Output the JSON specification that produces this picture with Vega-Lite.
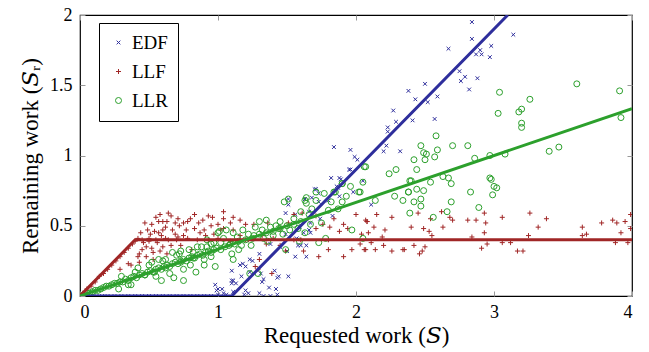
{
"$schema": "https://vega.github.io/schema/vega-lite/v6.json",
"width": 552, "height": 281,
"autosize": {"type": "none"},
"padding": {"left": 80, "top": 15, "right": 17, "bottom": 56},
"config": {"font": "Liberation Serif", "view": {"stroke": "black", "strokeWidth": 1.2},
 "axis": {"labelFont": "Liberation Serif", "titleFont": "Liberation Serif"},
 "legend": {"labelFont": "Liberation Serif", "titleFont": "Liberation Serif"}},
"datasets": {
"pts": [
{"s":"EDF","x":0.02,"y":0},{"s":"EDF","x":0.05,"y":0},{"s":"EDF","x":0.08,"y":0},{"s":"EDF","x":0.12,"y":0},{"s":"EDF","x":0.16,"y":0},{"s":"EDF","x":0.2,"y":0},{"s":"EDF","x":0.25,"y":0},{"s":"EDF","x":0.3,"y":0},{"s":"EDF","x":0.35,"y":0},{"s":"EDF","x":0.4,"y":0},{"s":"EDF","x":0.45,"y":0},{"s":"EDF","x":0.5,"y":0},{"s":"EDF","x":0.55,"y":0},{"s":"EDF","x":0.6,"y":0},{"s":"EDF","x":0.65,"y":0},{"s":"EDF","x":0.7,"y":0},{"s":"EDF","x":0.75,"y":0},{"s":"EDF","x":0.8,"y":0},{"s":"EDF","x":0.85,"y":0},{"s":"EDF","x":0.9,"y":0},{"s":"EDF","x":0.95,"y":0},{"s":"EDF","x":1.0,"y":0.01},{"s":"EDF","x":1.04,"y":0.02},{"s":"EDF","x":1.06,"y":0.01},
{"s":"EDF","x":0.98,"y":0.08},{"s":"EDF","x":1.0,"y":0.05},{"s":"EDF","x":0.99,"y":0.04},{"s":"EDF","x":1.03,"y":0.05},{"s":"EDF","x":1.1,"y":0.11},{"s":"EDF","x":1.1,"y":0.09},{"s":"EDF","x":1.16,"y":0.22},{"s":"EDF","x":1.18,"y":0.23},{"s":"EDF","x":1.1,"y":0.18},{"s":"EDF","x":1.2,"y":0.04},{"s":"EDF","x":1.22,"y":0.02},{"s":"EDF","x":1.3,"y":0.02},{"s":"EDF","x":1.33,"y":0.0},{"s":"EDF","x":1.43,"y":0.01},{"s":"EDF","x":1.37,"y":0.06},{"s":"EDF","x":1.41,"y":0.18},{"s":"EDF","x":1.44,"y":0.14},{"s":"EDF","x":1.51,"y":0.14},{"s":"EDF","x":1.31,"y":0.16},
{"s":"EDF","x":1.96,"y":0.9},{"s":"EDF","x":1.87,"y":0.77},{"s":"EDF","x":1.71,"y":0.76},{"s":"EDF","x":1.88,"y":0.71},{"s":"EDF","x":1.8,"y":0.68},{"s":"EDF","x":1.63,"y":0.69},{"s":"EDF","x":1.66,"y":0.6},{"s":"EDF","x":1.56,"y":0.58},{"s":"EDF","x":1.49,"y":0.59},{"s":"EDF","x":1.51,"y":0.69},{"s":"EDF","x":1.83,"y":0.57},{"s":"EDF","x":1.74,"y":0.55},{"s":"EDF","x":1.67,"y":0.52},{"s":"EDF","x":1.59,"y":0.49},{"s":"EDF","x":1.62,"y":0.45},{"s":"EDF","x":1.57,"y":0.41},{"s":"EDF","x":1.67,"y":0.45},{"s":"EDF","x":1.49,"y":0.44},{"s":"EDF","x":1.6,"y":0.36},{"s":"EDF","x":1.45,"y":0.35},{"s":"EDF","x":1.38,"y":0.37},{"s":"EDF","x":1.5,"y":0.32},{"s":"EDF","x":1.56,"y":0.28},{"s":"EDF","x":1.64,"y":0.28},{"s":"EDF","x":1.3,"y":0.3},{"s":"EDF","x":1.23,"y":0.26},{"s":"EDF","x":1.25,"y":0.25},{"s":"EDF","x":1.2,"y":0.21},{"s":"EDF","x":1.43,"y":0.13},{"s":"EDF","x":1.33,"y":0.12},{"s":"EDF","x":1.23,"y":0.17},{"s":"EDF","x":1.17,"y":0.14},{"s":"EDF","x":1.11,"y":0.11},{"s":"EDF","x":1.13,"y":0.09},{"s":"EDF","x":1.32,"y":0.1},{"s":"EDF","x":1.42,"y":0.05},{"s":"EDF","x":1.11,"y":0.03},{"s":"EDF","x":1.19,"y":0.01},{"s":"EDF","x":1.38,"y":0},
{"s":"EDF","x":2.11,"y":0.65},{"s":"EDF","x":1.73,"y":0.67},{"s":"EDF","x":1.51,"y":0.65},{"s":"EDF","x":1.66,"y":0.47},{"s":"EDF","x":1.64,"y":0.36},{"s":"EDF","x":1.58,"y":0.36},
{"s":"EDF","x":2.84,"y":1.95},{"s":"EDF","x":3.14,"y":1.86},{"s":"EDF","x":2.84,"y":1.83},{"s":"EDF","x":2.67,"y":1.76},{"s":"EDF","x":2.98,"y":1.78},{"s":"EDF","x":2.9,"y":1.75},{"s":"EDF","x":2.91,"y":1.72},{"s":"EDF","x":2.87,"y":1.72},{"s":"EDF","x":2.97,"y":1.7},{"s":"EDF","x":2.75,"y":1.6},{"s":"EDF","x":2.79,"y":1.56},{"s":"EDF","x":2.76,"y":1.53},{"s":"EDF","x":2.88,"y":1.55},{"s":"EDF","x":2.82,"y":1.47},{"s":"EDF","x":2.5,"y":1.51},{"s":"EDF","x":2.38,"y":1.46},{"s":"EDF","x":2.43,"y":1.4},{"s":"EDF","x":2.52,"y":1.38},{"s":"EDF","x":2.59,"y":1.42},{"s":"EDF","x":2.27,"y":1.32},{"s":"EDF","x":2.29,"y":1.24},{"s":"EDF","x":2.41,"y":1.25},{"s":"EDF","x":2.57,"y":1.26},{"s":"EDF","x":2.23,"y":1.2},{"s":"EDF","x":2.23,"y":1.17},{"s":"EDF","x":2.22,"y":1.07},{"s":"EDF","x":2.2,"y":1.03},{"s":"EDF","x":2.32,"y":1.03},{"s":"EDF","x":1.84,"y":1.06},{"s":"EDF","x":1.96,"y":1.04},{"s":"EDF","x":1.99,"y":0.99},{"s":"EDF","x":2.01,"y":0.97},{"s":"EDF","x":1.95,"y":0.9},{"s":"EDF","x":1.82,"y":0.84},{"s":"EDF","x":1.88,"y":0.84},{"s":"EDF","x":1.89,"y":0.83},{"s":"EDF","x":2.05,"y":0.82},{"s":"EDF","x":1.7,"y":0.76},{"s":"EDF","x":1.73,"y":0.73},{"s":"EDF","x":1.86,"y":0.78},{"s":"EDF","x":1.98,"y":0.74},{"s":"EDF","x":1.68,"y":0.7},
{"s":"LLF","x":0.02,"y":0.02},{"s":"LLF","x":0.05,"y":0.05},{"s":"LLF","x":0.08,"y":0.07},{"s":"LLF","x":0.11,"y":0.1},{"s":"LLF","x":0.14,"y":0.14},{"s":"LLF","x":0.17,"y":0.16},{"s":"LLF","x":0.2,"y":0.19},{"s":"LLF","x":0.23,"y":0.22},{"s":"LLF","x":0.26,"y":0.25},{"s":"LLF","x":0.29,"y":0.28},{"s":"LLF","x":0.32,"y":0.31},{"s":"LLF","x":0.35,"y":0.34},{"s":"LLF","x":0.38,"y":0.37},{"s":"LLF","x":0.4,"y":0.39},{"s":"LLF","x":0.42,"y":0.41},
{"s":"LLF","x":0.45,"y":0.4},{"s":"LLF","x":0.5,"y":0.41},{"s":"LLF","x":0.55,"y":0.4},{"s":"LLF","x":0.62,"y":0.41},{"s":"LLF","x":0.7,"y":0.4},{"s":"LLF","x":0.78,"y":0.41},{"s":"LLF","x":0.85,"y":0.4},{"s":"LLF","x":0.93,"y":0.4},{"s":"LLF","x":1.0,"y":0.41},{"s":"LLF","x":1.2,"y":0.4},{"s":"LLF","x":1.4,"y":0.41},{"s":"LLF","x":1.6,"y":0.4},{"s":"LLF","x":1.8,"y":0.4},
{"s":"LLF","x":0.44,"y":0.45},{"s":"LLF","x":0.47,"y":0.52},{"s":"LLF","x":0.51,"y":0.44},{"s":"LLF","x":0.55,"y":0.56},{"s":"LLF","x":0.59,"y":0.43},{"s":"LLF","x":0.62,"y":0.49},{"s":"LLF","x":0.66,"y":0.57},{"s":"LLF","x":0.69,"y":0.44},{"s":"LLF","x":0.72,"y":0.5},{"s":"LLF","x":0.77,"y":0.47},{"s":"LLF","x":0.8,"y":0.55},{"s":"LLF","x":0.86,"y":0.52},{"s":"LLF","x":0.9,"y":0.47},{"s":"LLF","x":0.93,"y":0.57},{"s":"LLF","x":0.97,"y":0.44},{"s":"LLF","x":0.48,"y":0.35},{"s":"LLF","x":0.53,"y":0.31},{"s":"LLF","x":0.66,"y":0.36},{"s":"LLF","x":0.69,"y":0.52},{"s":"LLF","x":0.58,"y":0.58},
{"s":"LLF","x":0.64,"y":0.59},{"s":"LLF","x":0.83,"y":0.58},{"s":"LLF","x":0.96,"y":0.56},{"s":"LLF","x":1.04,"y":0.6},{"s":"LLF","x":1.04,"y":0.55},{"s":"LLF","x":0.71,"y":0.55},{"s":"LLF","x":0.57,"y":0.53},{"s":"LLF","x":0.6,"y":0.53},{"s":"LLF","x":0.63,"y":0.53},{"s":"LLF","x":0.52,"y":0.51},{"s":"LLF","x":0.75,"y":0.52},{"s":"LLF","x":0.78,"y":0.53},{"s":"LLF","x":0.89,"y":0.54},{"s":"LLF","x":0.95,"y":0.5},{"s":"LLF","x":0.49,"y":0.47},{"s":"LLF","x":0.54,"y":0.46},{"s":"LLF","x":0.57,"y":0.45},{"s":"LLF","x":0.6,"y":0.47},{"s":"LLF","x":0.67,"y":0.47},{"s":"LLF","x":0.75,"y":0.43},{"s":"LLF","x":0.71,"y":0.42},{"s":"LLF","x":0.64,"y":0.4},{"s":"LLF","x":0.5,"y":0.39},{"s":"LLF","x":0.46,"y":0.38},{"s":"LLF","x":0.56,"y":0.38},{"s":"LLF","x":0.6,"y":0.35},{"s":"LLF","x":0.52,"y":0.34},{"s":"LLF","x":0.58,"y":0.32},{"s":"LLF","x":0.63,"y":0.3},{"s":"LLF","x":0.45,"y":0.33},{"s":"LLF","x":0.43,"y":0.3},{"s":"LLF","x":0.42,"y":0.28},{"s":"LLF","x":0.48,"y":0.28},{"s":"LLF","x":0.53,"y":0.26},{"s":"LLF","x":0.43,"y":0.24},{"s":"LLF","x":0.35,"y":0.23},{"s":"LLF","x":0.37,"y":0.22},{"s":"LLF","x":0.29,"y":0.19},{"s":"LLF","x":0.83,"y":0.48},{"s":"LLF","x":0.87,"y":0.45},{"s":"LLF","x":0.91,"y":0.43},{"s":"LLF","x":1.0,"y":0.51},{"s":"LLF","x":1.02,"y":0.47},{"s":"LLF","x":0.81,"y":0.33},{"s":"LLF","x":0.73,"y":0.36},
{"s":"LLF","x":1.11,"y":0.56},{"s":"LLF","x":1.09,"y":0.52},{"s":"LLF","x":1.16,"y":0.54},{"s":"LLF","x":1.2,"y":0.51},{"s":"LLF","x":1.04,"y":0.48},{"s":"LLF","x":1.11,"y":0.47},{"s":"LLF","x":1.26,"y":0.51},{"s":"LLF","x":1.32,"y":0.43},{"s":"LLF","x":1.36,"y":0.52},{"s":"LLF","x":1.45,"y":0.48},{"s":"LLF","x":1.51,"y":0.52},{"s":"LLF","x":1.61,"y":0.59},{"s":"LLF","x":1.55,"y":0.58},{"s":"LLF","x":1.71,"y":0.57},{"s":"LLF","x":1.84,"y":0.55},{"s":"LLF","x":2.0,"y":0.58},{"s":"LLF","x":2.08,"y":0.53},{"s":"LLF","x":1.91,"y":0.51},{"s":"LLF","x":1.94,"y":0.48},{"s":"LLF","x":1.88,"y":0.46},{"s":"LLF","x":1.81,"y":0.49},{"s":"LLF","x":1.76,"y":0.51},{"s":"LLF","x":1.71,"y":0.48},{"s":"LLF","x":1.97,"y":0.33},{"s":"LLF","x":2.03,"y":0.37},{"s":"LLF","x":2.07,"y":0.33},{"s":"LLF","x":1.91,"y":0.28},{"s":"LLF","x":1.73,"y":0.28},{"s":"LLF","x":1.8,"y":0.33},{"s":"LLF","x":1.62,"y":0.32},{"s":"LLF","x":1.49,"y":0.32},{"s":"LLF","x":1.45,"y":0.36},{"s":"LLF","x":1.55,"y":0.4},{"s":"LLF","x":1.3,"y":0.26},{"s":"LLF","x":1.27,"y":0.21},{"s":"LLF","x":1.29,"y":0.19},{"s":"LLF","x":1.39,"y":0.16},{"s":"LLF","x":1.16,"y":0.43},{"s":"LLF","x":1.09,"y":0.39},{"s":"LLF","x":1.22,"y":0.4},{"s":"LLF","x":1.35,"y":0.37},
{"s":"LLF","x":2.15,"y":0.58},{"s":"LLF","x":2.26,"y":0.56},{"s":"LLF","x":2.07,"y":0.54},{"s":"LLF","x":2.08,"y":0.53},{"s":"LLF","x":2.13,"y":0.49},{"s":"LLF","x":2.21,"y":0.47},{"s":"LLF","x":2.09,"y":0.45},{"s":"LLF","x":2.04,"y":0.44},{"s":"LLF","x":2.19,"y":0.42},{"s":"LLF","x":2.11,"y":0.38},{"s":"LLF","x":2.2,"y":0.36},{"s":"LLF","x":2.06,"y":0.33},{"s":"LLF","x":2.14,"y":0.33},{"s":"LLF","x":2.26,"y":0.32},{"s":"LLF","x":2.34,"y":0.33},{"s":"LLF","x":2.35,"y":0.33},{"s":"LLF","x":2.42,"y":0.36},{"s":"LLF","x":2.46,"y":0.3},{"s":"LLF","x":2.48,"y":0.32},{"s":"LLF","x":2.5,"y":0.35},{"s":"LLF","x":2.4,"y":0.49},{"s":"LLF","x":2.45,"y":0.59},{"s":"LLF","x":2.49,"y":0.48},{"s":"LLF","x":2.53,"y":0.46},{"s":"LLF","x":2.54,"y":0.55},{"s":"LLF","x":2.55,"y":0.43},{"s":"LLF","x":2.62,"y":0.6},{"s":"LLF","x":2.63,"y":0.49},{"s":"LLF","x":2.68,"y":0.56},{"s":"LLF","x":2.7,"y":0.54},{"s":"LLF","x":2.81,"y":0.54},{"s":"LLF","x":2.87,"y":0.54},{"s":"LLF","x":2.84,"y":0.42},{"s":"LLF","x":2.91,"y":0.34},{"s":"LLF","x":2.95,"y":0.37},{"s":"LLF","x":2.93,"y":0.59},{"s":"LLF","x":2.94,"y":0.52},{"s":"LLF","x":2.93,"y":0.45},{"s":"LLF","x":3.06,"y":0.56},{"s":"LLF","x":3.06,"y":0.38},{"s":"LLF","x":3.12,"y":0.38},{"s":"LLF","x":3.17,"y":0.32},{"s":"LLF","x":3.21,"y":0.32},{"s":"LLF","x":3.25,"y":0.43},{"s":"LLF","x":3.26,"y":0.59},{"s":"LLF","x":3.32,"y":0.49},{"s":"LLF","x":3.38,"y":0.55},{"s":"LLF","x":3.64,"y":0.49},{"s":"LLF","x":3.64,"y":0.43},{"s":"LLF","x":3.67,"y":0.44},{"s":"LLF","x":3.78,"y":0.52},{"s":"LLF","x":3.86,"y":0.54},{"s":"LLF","x":3.89,"y":0.52},{"s":"LLF","x":3.95,"y":0.53},{"s":"LLF","x":3.99,"y":0.58},{"s":"LLF","x":3.99,"y":0.48},{"s":"LLF","x":3.92,"y":0.45},{"s":"LLF","x":3.88,"y":0.38},{"s":"LLF","x":3.97,"y":0.38},
{"s":"LLR","x":0.01,"y":0.0},{"s":"LLR","x":0.03,"y":0.01},{"s":"LLR","x":0.05,"y":0.02},{"s":"LLR","x":0.07,"y":0.02},{"s":"LLR","x":0.09,"y":0.03},{"s":"LLR","x":0.11,"y":0.04},{"s":"LLR","x":0.13,"y":0.04},{"s":"LLR","x":0.15,"y":0.05},{"s":"LLR","x":0.17,"y":0.06},{"s":"LLR","x":0.19,"y":0.07},{"s":"LLR","x":0.21,"y":0.07},{"s":"LLR","x":0.23,"y":0.08},{"s":"LLR","x":0.25,"y":0.09},{"s":"LLR","x":0.27,"y":0.09},{"s":"LLR","x":0.29,"y":0.1},{"s":"LLR","x":0.31,"y":0.1},{"s":"LLR","x":0.33,"y":0.12},{"s":"LLR","x":0.35,"y":0.11},{"s":"LLR","x":0.37,"y":0.13},{"s":"LLR","x":0.39,"y":0.14},{"s":"LLR","x":0.41,"y":0.13},{"s":"LLR","x":0.43,"y":0.15},{"s":"LLR","x":0.45,"y":0.16},{"s":"LLR","x":0.47,"y":0.15},{"s":"LLR","x":0.49,"y":0.17},{"s":"LLR","x":0.51,"y":0.18},{"s":"LLR","x":0.53,"y":0.17},{"s":"LLR","x":0.55,"y":0.19},{"s":"LLR","x":0.57,"y":0.2},{"s":"LLR","x":0.59,"y":0.19},{"s":"LLR","x":0.61,"y":0.21},{"s":"LLR","x":0.63,"y":0.22},{"s":"LLR","x":0.65,"y":0.21},{"s":"LLR","x":0.67,"y":0.23},{"s":"LLR","x":0.69,"y":0.24},{"s":"LLR","x":0.71,"y":0.23},{"s":"LLR","x":0.73,"y":0.25},{"s":"LLR","x":0.75,"y":0.26},{"s":"LLR","x":0.77,"y":0.25},{"s":"LLR","x":0.79,"y":0.27},{"s":"LLR","x":0.81,"y":0.28},{"s":"LLR","x":0.83,"y":0.27},{"s":"LLR","x":0.85,"y":0.29},{"s":"LLR","x":0.87,"y":0.3},{"s":"LLR","x":0.89,"y":0.29},{"s":"LLR","x":0.91,"y":0.31},{"s":"LLR","x":0.93,"y":0.32},{"s":"LLR","x":0.95,"y":0.31},{"s":"LLR","x":0.97,"y":0.33},{"s":"LLR","x":0.99,"y":0.34},{"s":"LLR","x":1.02,"y":0.33},{"s":"LLR","x":1.05,"y":0.35},{"s":"LLR","x":1.08,"y":0.36},{"s":"LLR","x":1.12,"y":0.37},{"s":"LLR","x":1.15,"y":0.39},{"s":"LLR","x":1.2,"y":0.4},{"s":"LLR","x":1.25,"y":0.41},{"s":"LLR","x":1.3,"y":0.44},{"s":"LLR","x":1.35,"y":0.45},{"s":"LLR","x":1.4,"y":0.46},{"s":"LLR","x":1.45,"y":0.48},{"s":"LLR","x":1.5,"y":0.5},{"s":"LLR","x":1.55,"y":0.51},{"s":"LLR","x":1.6,"y":0.53},
{"s":"LLR","x":0.52,"y":0.24},{"s":"LLR","x":0.62,"y":0.26},{"s":"LLR","x":0.72,"y":0.3},{"s":"LLR","x":0.82,"y":0.31},{"s":"LLR","x":0.92,"y":0.35},{"s":"LLR","x":1.02,"y":0.38},{"s":"LLR","x":1.14,"y":0.42},{"s":"LLR","x":1.22,"y":0.44},{"s":"LLR","x":1.32,"y":0.47},{"s":"LLR","x":1.42,"y":0.5},{"s":"LLR","x":1.47,"y":0.44},{"s":"LLR","x":1.36,"y":0.39},{"s":"LLR","x":1.24,"y":0.36},{"s":"LLR","x":1.15,"y":0.33},{"s":"LLR","x":1.55,"y":0.55},{"s":"LLR","x":1.6,"y":0.6},{"s":"LLR","x":1.66,"y":0.58},{"s":"LLR","x":1.68,"y":0.62},
{"s":"LLR","x":0.3,"y":0.14},{"s":"LLR","x":0.35,"y":0.08},{"s":"LLR","x":0.42,"y":0.2},{"s":"LLR","x":0.5,"y":0.22},{"s":"LLR","x":0.55,"y":0.14},{"s":"LLR","x":0.6,"y":0.25},{"s":"LLR","x":0.65,"y":0.16},{"s":"LLR","x":0.7,"y":0.29},{"s":"LLR","x":0.75,"y":0.19},{"s":"LLR","x":0.8,"y":0.22},{"s":"LLR","x":0.85,"y":0.35},{"s":"LLR","x":0.9,"y":0.26},{"s":"LLR","x":0.95,"y":0.28},{"s":"LLR","x":0.97,"y":0.38},
{"s":"LLR","x":0.75,"y":0.11},{"s":"LLR","x":0.68,"y":0.13},{"s":"LLR","x":0.67,"y":0.31},{"s":"LLR","x":0.73,"y":0.32},{"s":"LLR","x":0.79,"y":0.33},{"s":"LLR","x":0.84,"y":0.17},{"s":"LLR","x":0.9,"y":0.22},{"s":"LLR","x":0.98,"y":0.21},{"s":"LLR","x":1.0,"y":0.45},{"s":"LLR","x":1.01,"y":0.46},{"s":"LLR","x":0.92,"y":0.4},{"s":"LLR","x":0.95,"y":0.37},{"s":"LLR","x":0.88,"y":0.35},{"s":"LLR","x":0.82,"y":0.27},{"s":"LLR","x":0.73,"y":0.24},{"s":"LLR","x":0.57,"y":0.26},{"s":"LLR","x":0.54,"y":0.17},{"s":"LLR","x":0.47,"y":0.15},{"s":"LLR","x":0.4,"y":0.17},{"s":"LLR","x":0.37,"y":0.08},{"s":"LLR","x":0.28,"y":0.05},{"s":"LLR","x":0.62,"y":0.2},{"s":"LLR","x":0.59,"y":0.11},
{"s":"LLR","x":1.48,"y":0.67},{"s":"LLR","x":1.51,"y":0.69},{"s":"LLR","x":1.63,"y":0.68},{"s":"LLR","x":1.64,"y":0.66},{"s":"LLR","x":1.71,"y":0.68},{"s":"LLR","x":1.71,"y":0.74},{"s":"LLR","x":1.77,"y":0.73},{"s":"LLR","x":1.85,"y":0.74},{"s":"LLR","x":1.9,"y":0.8},{"s":"LLR","x":1.96,"y":0.78},{"s":"LLR","x":1.93,"y":0.71},{"s":"LLR","x":2.02,"y":0.74},{"s":"LLR","x":2.06,"y":0.92},{"s":"LLR","x":1.9,"y":0.67},{"s":"LLR","x":1.82,"y":0.67},{"s":"LLR","x":1.8,"y":0.61},{"s":"LLR","x":1.87,"y":0.62},{"s":"LLR","x":1.75,"y":0.52},{"s":"LLR","x":1.78,"y":0.41},{"s":"LLR","x":1.73,"y":0.38},{"s":"LLR","x":1.97,"y":0.47},{"s":"LLR","x":2.05,"y":0.41},{"s":"LLR","x":1.59,"y":0.39},{"s":"LLR","x":1.49,"y":0.33},{"s":"LLR","x":1.63,"y":0.45},{"s":"LLR","x":1.45,"y":0.53},{"s":"LLR","x":1.35,"y":0.54},{"s":"LLR","x":1.3,"y":0.53},{"s":"LLR","x":1.18,"y":0.47},{"s":"LLR","x":1.11,"y":0.45},{"s":"LLR","x":1.06,"y":0.47},{"s":"LLR","x":1.04,"y":0.41},{"s":"LLR","x":1.26,"y":0.43},{"s":"LLR","x":1.33,"y":0.41},{"s":"LLR","x":1.4,"y":0.43},{"s":"LLR","x":1.17,"y":0.36},{"s":"LLR","x":1.1,"y":0.3},{"s":"LLR","x":1.11,"y":0.26},{"s":"LLR","x":1.23,"y":0.16},{"s":"LLR","x":1.29,"y":0.16},{"s":"LLR","x":1.09,"y":0.37},{"s":"LLR","x":1.52,"y":0.47},{"s":"LLR","x":1.58,"y":0.48},{"s":"LLR","x":1.67,"y":0.51},{"s":"LLR","x":1.27,"y":0.49},{"s":"LLR","x":1.38,"y":0.49},{"s":"LLR","x":1.44,"y":0.48},
{"s":"LLR","x":2.07,"y":0.92},{"s":"LLR","x":2.24,"y":0.87},{"s":"LLR","x":2.29,"y":0.9},{"s":"LLR","x":1.9,"y":0.8},{"s":"LLR","x":2.05,"y":0.81},{"s":"LLR","x":1.84,"y":0.74},{"s":"LLR","x":2.03,"y":0.74},{"s":"LLR","x":1.64,"y":0.7},{"s":"LLR","x":2.38,"y":0.74},{"s":"LLR","x":2.28,"y":0.71},{"s":"LLR","x":2.14,"y":0.68},
{"s":"LLR","x":3.6,"y":1.51},{"s":"LLR","x":3.91,"y":1.46},{"s":"LLR","x":3.04,"y":1.45},{"s":"LLR","x":3.26,"y":1.4},{"s":"LLR","x":3.2,"y":1.33},{"s":"LLR","x":3.18,"y":1.31},{"s":"LLR","x":3.03,"y":1.3},{"s":"LLR","x":3.92,"y":1.27},{"s":"LLR","x":3.2,"y":1.23},{"s":"LLR","x":3.2,"y":1.2},{"s":"LLR","x":2.58,"y":1.14},{"s":"LLR","x":2.47,"y":1.07},{"s":"LLR","x":2.7,"y":1.07},{"s":"LLR","x":2.81,"y":1.07},{"s":"LLR","x":2.59,"y":1.04},{"s":"LLR","x":2.49,"y":1.02},{"s":"LLR","x":2.51,"y":1.01},{"s":"LLR","x":2.57,"y":0.99},{"s":"LLR","x":2.42,"y":0.97},{"s":"LLR","x":2.5,"y":0.97},{"s":"LLR","x":2.86,"y":0.98},{"s":"LLR","x":2.97,"y":1.0},{"s":"LLR","x":3.08,"y":1.01},{"s":"LLR","x":3.4,"y":1.03},{"s":"LLR","x":3.47,"y":1.06},{"s":"LLR","x":2.44,"y":0.9},{"s":"LLR","x":2.63,"y":0.85},{"s":"LLR","x":2.67,"y":0.84},{"s":"LLR","x":2.97,"y":0.84},{"s":"LLR","x":2.98,"y":0.83},{"s":"LLR","x":2.39,"y":0.82},{"s":"LLR","x":2.4,"y":0.82},{"s":"LLR","x":2.54,"y":0.81},{"s":"LLR","x":2.69,"y":0.8},{"s":"LLR","x":3.0,"y":0.78},{"s":"LLR","x":3.02,"y":0.77},{"s":"LLR","x":2.44,"y":0.76},{"s":"LLR","x":2.49,"y":0.75},{"s":"LLR","x":2.38,"y":0.74},{"s":"LLR","x":2.83,"y":0.74},{"s":"LLR","x":2.99,"y":0.72},{"s":"LLR","x":2.34,"y":0.68},{"s":"LLR","x":2.42,"y":0.67},{"s":"LLR","x":2.47,"y":0.69},{"s":"LLR","x":2.69,"y":0.67},{"s":"LLR","x":2.47,"y":0.64},{"s":"LLR","x":2.89,"y":0.63},{"s":"LLR","x":2.39,"y":0.59},{"s":"LLR","x":2.66,"y":0.6},{"s":"LLR","x":2.56,"y":0.56}
],
"lines": [
{"s":"EDF","x":0,"y":0},{"s":"EDF","x":1.1,"y":0},{"s":"EDF","x":3.1,"y":2},
{"s":"LLF","x":0,"y":0},{"s":"LLF","x":0.4,"y":0.4},{"s":"LLF","x":4,"y":0.4},
{"s":"LLR","x":0,"y":0},{"s":"LLR","x":4,"y":1.333}
]
},
"layer": [
{
"data": {"name": "pts"},
"mark": {"type": "point", "filled": false, "strokeWidth": 1, "clip": true, "opacity": 1},
"encoding": {
"x": {"field": "x", "type": "quantitative", "scale": {"domain": [0, 4], "nice": false},
 "axis": {"orient": "bottom", "values": [0,1,2,3,4], "format": "~g", "grid": false, "domain": false, "tickSize": -5, "tickColor": "#999999", "labelPadding": 12, "labelFontSize": 18, "labelColor": "black", "labelFont": "Times New Roman, Liberation Serif, serif", "title": "Requested work (𝑆)", "titleFont": "Liberation Serif, DejaVu Serif, serif", "titleFontSize": 23, "titleFontWeight": "normal", "titleColor": "black", "titlePadding": 3}},
"y": {"field": "y", "type": "quantitative", "scale": {"domain": [0, 2], "nice": false},
 "axis": {"orient": "left", "values": [0,0.5,1,1.5,2], "format": "~g", "grid": false, "domain": false, "tickSize": -5, "tickColor": "#999999", "labelPadding": 13, "labelFontSize": 18, "labelColor": "black", "labelFont": "Times New Roman, Liberation Serif, serif", "title": "Remaining work (𝑆ᵣ)", "titleFont": "Liberation Serif, DejaVu Serif, serif", "titleFontSize": 23, "titleFontWeight": "normal", "titleColor": "black", "titlePadding": 7}},
"color": {"field": "s", "type": "nominal", "scale": {"domain": ["EDF","LLF","LLR"], "range": ["#2e2e9c", "#a02626", "#2ca02c"]},
 "legend": {"orient": "none", "legendX": 19, "legendY": 8, "title": null, "strokeColor": "black", "fillColor": "white", "padding": 10, "labelFontSize": 19, "labelFont": "Liberation Serif", "labelColor": "black", "rowPadding": 9, "symbolStrokeWidth": 1, "labelOffset": 4, "cornerRadius": 0}},
"shape": {"field": "s", "type": "nominal", "scale": {"domain": ["EDF","LLF","LLR"], "range": ["M-1,-1L1,1M-1,1L1,-1", "M-1,0L1,0M0,-1L0,1", "circle"]}},
"size": {"field": "s", "type": "nominal", "scale": {"domain": ["EDF","LLF","LLR"], "range": [14, 36, 30]}}
}
},
{
"data": {"name": "lines"},
"mark": {"type": "line", "strokeWidth": 3, "clip": true},
"encoding": {
"x": {"field": "x", "type": "quantitative", "axis": {"orient": "top", "values": [0,1,2,3,4], "labels": false, "grid": false, "domain": false, "tickSize": -5, "tickColor": "#999999", "title": null}},
"y": {"field": "y", "type": "quantitative", "axis": {"orient": "right", "values": [0,0.5,1,1.5,2], "labels": false, "grid": false, "domain": false, "tickSize": -5, "tickColor": "#999999", "title": null}},
"color": {"field": "s", "type": "nominal", "legend": null}
}
}
],
"resolve": {"axis": {"x": "independent", "y": "independent"}}
}
